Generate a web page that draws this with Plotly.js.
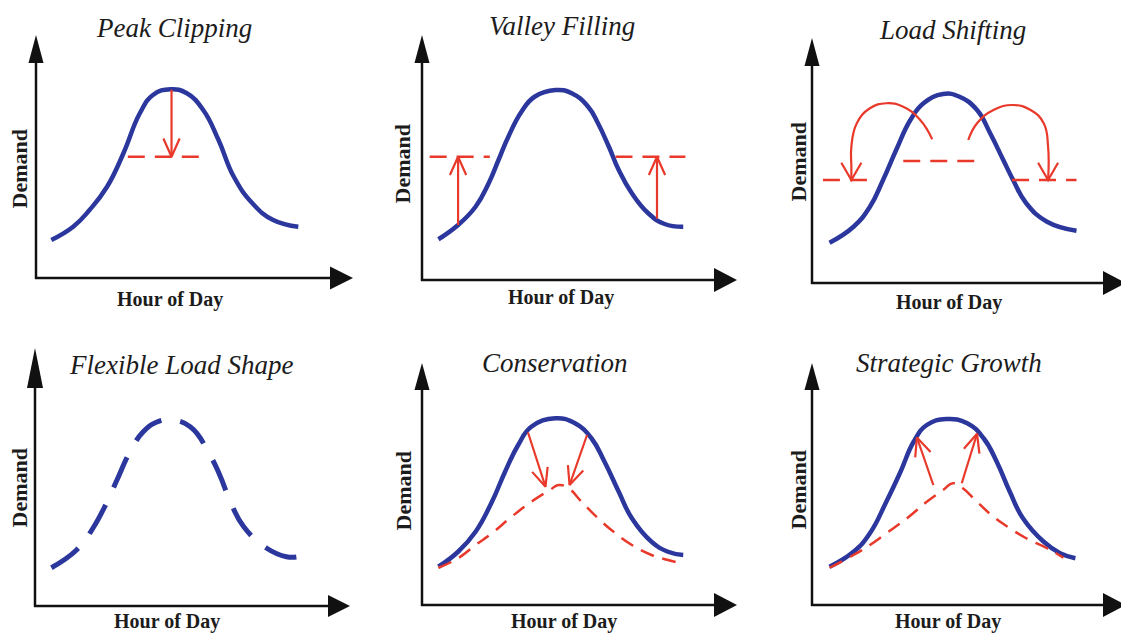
<!DOCTYPE html>
<html><head><meta charset="utf-8">
<script src="https://cdn.plot.ly/plotly-3.0.1.min.js"></script>
<style>html,body{margin:0;padding:0;background:#fff;} #chart{width:1121px;height:633px;}</style>
</head><body><div id="chart"></div>
<script>
// ---------- text ----------
const panelTitles = ["Peak Clipping", "Valley Filling", "Load Shifting", "Flexible Load Shape", "Conservation", "Strategic Growth"];
const xAxisLabel = "Hour of Day";
const yAxisLabel = "Demand";

// ---------- data (hour of day, demand %) ----------
// Panel 1: Peak Clipping
const p1Hour   = [1.4, 3.4, 4.9, 6.5, 8.0, 9.5, 10.7, 12.3, 13.8, 15.3, 16.7, 18.1, 19.8, 21.7, 24.0];
const p1Demand = [15.2, 20.5, 27.2, 36.5, 49.9, 65.9, 73.2, 75.5, 73.9, 67.2, 55.2, 40.5, 29.9, 23.2, 20.5];
const p1ClipHour   = [8.4, 15.2];
const p1ClipDemand = [48.5, 48.5];
const p1ArrowHour   = [12.4, 12.4];
const p1ArrowDemand = [75.3, 48.5];

// Panel 2: Valley Filling
const p2Hour   = [1.5, 3.3, 4.9, 6.1, 7.0, 7.9, 9.1, 10.3, 12.2, 13.7, 15.2, 16.1, 17.1, 18.0, 19.2, 20.7, 22.2, 23.9];
const p2Demand = [16.3, 22.0, 29.3, 38.7, 48.0, 57.3, 67.3, 73.3, 76.0, 74.7, 69.3, 62.7, 53.3, 44.0, 34.7, 26.7, 22.4, 21.3];
const p2FillLeftHour  = [0.7, 6.2];
const p2FillRightHour = [17.7, 24.1];
const p2FillDemand    = [49.3, 49.3];
const p2ArrowLeftHour    = [3.3, 3.3];
const p2ArrowLeftDemand  = [22.0, 49.3];
const p2ArrowRightHour   = [21.5, 21.5];
const p2ArrowRightDemand = [24.5, 49.3];

// Panel 3: Load Shifting
const p3Hour   = [1.6, 3.8, 5.3, 6.5, 7.7, 9.0, 10.2, 12.0, 13.5, 15.1, 16.3, 17.5, 18.4, 19.6, 21.5, 24.2];
const p3Demand = [16.1, 22.5, 30.5, 41.2, 53.2, 65.2, 71.9, 75.6, 74.5, 69.2, 59.9, 49.2, 41.2, 31.9, 24.5, 20.9];
const p3LowLeftHour  = [1.0, 5.9];
const p3LowRightHour = [18.3, 24.2];
const p3LowDemand    = [41.2, 41.2];
const p3MidHour      = [8.35, 15.2];
const p3MidDemand    = [48.8, 48.8];
const p3ArcLeftHour    = [11.0, 9.9, 8.35, 6.8, 5.3, 4.1, 3.6, 3.6, 3.6];
const p3ArcLeftDemand  = [57.5, 65.2, 70.5, 71.9, 69.9, 63.9, 54.5, 46.5, 41.2];
const p3ArcRightHour   = [14.3, 15.1, 16.6, 18.4, 20.0, 21.2, 21.6, 21.6];
const p3ArcRightDemand = [57.2, 63.9, 69.2, 71.2, 69.2, 63.9, 54.5, 41.2];

// Panel 4: Flexible Load Shape
const p4Hour   = [1.5, 3.8, 5.2, 6.6, 7.5, 8.7, 9.9, 11.1, 12.4, 14.2, 16.0, 16.9, 18.0, 19.1, 21.2, 23.0, 24.1];
const p4Demand = [15.3, 22.4, 30.4, 41.7, 50.4, 61.7, 69.7, 73.5, 74.4, 71.7, 60.4, 52.4, 40.4, 31.7, 23.1, 19.7, 19.7];

// Panel 5: Conservation
const p5Hour   = [1.5, 3.3, 4.9, 6.4, 7.6, 8.8, 10.0, 12.2, 14.0, 15.5, 16.7, 18.0, 19.2, 21.0, 22.5, 23.9];
const p5Demand = [15.3, 21.3, 29.3, 41.3, 53.3, 64.0, 71.3, 74.7, 72.7, 66.7, 57.3, 45.3, 34.7, 25.3, 21.3, 20.0];
const p5ReducedHour   = [1.5, 3.3, 4.9, 6.4, 8.2, 10.0, 11.7, 12.5, 13.4, 14.6, 16.1, 17.7, 19.2, 21.0, 22.5, 23.6];
const p5ReducedDemand = [14.9, 18.7, 24.0, 28.7, 35.3, 41.3, 46.0, 48.0, 46.7, 41.3, 34.7, 28.7, 24.0, 20.0, 18.0, 16.8];
const p5ArrowLeftHour    = [9.7, 11.3];
const p5ArrowLeftDemand  = [69.0, 47.3];
const p5ArrowRightHour   = [15.1, 13.5];
const p5ArrowRightDemand = [68.0, 48.0];

// Panel 6: Strategic Growth
const p6Hour   = [1.6, 3.8, 5.3, 6.8, 8.1, 9.3, 10.5, 12.3, 14.2, 15.7, 16.9, 18.1, 19.3, 21.2, 22.7, 24.1];
const p6Demand = [15.3, 21.3, 28.7, 41.3, 53.3, 65.3, 72.0, 74.4, 72.7, 66.7, 57.3, 45.3, 34.7, 25.3, 20.7, 18.7];
const p6BaseHour   = [1.6, 3.8, 5.3, 6.8, 8.7, 10.5, 12.0, 12.9, 13.8, 15.1, 16.6, 18.1, 19.6, 21.5, 23.0];
const p6BaseDemand = [14.9, 20.0, 24.0, 28.7, 34.7, 41.3, 46.0, 48.7, 46.7, 41.3, 35.3, 30.7, 26.7, 22.7, 18.9];
const p6ArrowLeftHour    = [11.1, 9.6];
const p6ArrowLeftDemand  = [48.0, 67.0];
const p6ArrowRightHour   = [13.7, 15.1];
const p6ArrowRightDemand = [48.7, 68.5];

// ---------- layout geometry (pixels) ----------
const FW = 1121, FH = 633;
const PXH = 10.93, PYD = 2.5;   // px per hour, px per demand unit
const DW = 290, DH = 230;       // plot-area size for each panel
const geom = [
  {ox:36,  oy:278, yTip:35,  yHead:28, yHalf:7.5, xTip:353,  xHead:23, xHalf:11.5, tX:174, tY:28,  dX:18.5,  dY:169, hX:169.5, hY:299.5},
  {ox:422, oy:280, yTip:35,  yHead:28, yHalf:7.5, xTip:737,  xHead:23, xHalf:12,   tX:562, tY:26,  dX:402.5, dY:164, hX:561,   hY:297},
  {ox:812, oy:283, yTip:38,  yHead:28, yHalf:7.5, xTip:1126, xHead:23, xHalf:12,   tX:952, tY:30,  dX:797.5, dY:162, hX:948.5, hY:302.5},
  {ox:35,  oy:606, yTip:348, yHead:40, yHalf:8,   xTip:350,  xHead:22, xHalf:11,   tX:181, tY:365, dX:18.5,  dY:488, hX:167,   hY:621},
  {ox:422, oy:605, yTip:363, yHead:27, yHalf:7.5, xTip:737,  xHead:23, xHalf:12,   tX:555, tY:363, dX:402.5, dY:491, hX:563.5, hY:621},
  {ox:812, oy:605, yTip:363, yHead:27, yHalf:7.5, xTip:1126, xHead:23, xHalf:12,   tX:949, tY:363, dX:797.5, dY:490, hX:947.5, hY:621}
];

const BLUE = '#2b379c', RED = '#e8392a', INK = '#111111';
const SERIF = 'Liberation Serif, Times New Roman, serif';
const px = v => v / FW;
const py = v => 1 - v / FH;

const traces = [];
function ax(k) { return k === 1 ? '' : String(k); }
function addLine(k, xs, ys, color, width, dash, shape) {
  traces.push({
    type: 'scatter', mode: 'lines', x: xs, y: ys,
    xaxis: 'x' + ax(k), yaxis: 'y' + ax(k),
    line: {color: color, width: width, dash: dash || 'solid', shape: shape || 'linear', smoothing: 1.3},
    hoverinfo: 'skip', showlegend: false
  });
}
// open V arrowhead at (x1,y1) pointing along direction from (x0,y0)
function addHead(k, x0, y0, x1, y1, L, angDeg) {
  L = L || 19; const a = (angDeg || 25) * Math.PI / 180;
  const dx = (x1 - x0) * PXH, dy = (y1 - y0) * PYD;
  const n = Math.hypot(dx, dy), ux = -dx / n, uy = -dy / n;
  const pts = [a, -a].map(t => {
    const rx = ux * Math.cos(t) - uy * Math.sin(t);
    const ry = ux * Math.sin(t) + uy * Math.cos(t);
    return [x1 + L * rx / PXH, y1 + L * ry / PYD];
  });
  addLine(k, [pts[0][0], x1, pts[1][0]], [pts[0][1], y1, pts[1][1]], RED, 2.2);
}
function addArrow(k, xs, ys) {
  addLine(k, xs, ys, RED, 2.2);
  addHead(k, xs[0], ys[0], xs[1], ys[1], 20, 24);
}

const DASH = '17px,10px';
// Panel 1
addLine(1, p1Hour, p1Demand, BLUE, 4.5, 'solid', 'spline');
addLine(1, p1ClipHour, p1ClipDemand, RED, 2.5, DASH);
addArrow(1, p1ArrowHour, p1ArrowDemand);
// Panel 2
addLine(2, p2Hour, p2Demand, BLUE, 4.5, 'solid', 'spline');
addLine(2, p2FillLeftHour, p2FillDemand, RED, 2.5, DASH);
addLine(2, p2FillRightHour, p2FillDemand, RED, 2.5, DASH);
addArrow(2, p2ArrowLeftHour, p2ArrowLeftDemand);
addArrow(2, p2ArrowRightHour, p2ArrowRightDemand);
// Panel 3
addLine(3, p3Hour, p3Demand, BLUE, 4.5, 'solid', 'spline');
addLine(3, p3LowLeftHour, p3LowDemand, RED, 2.5, DASH);
addLine(3, p3LowRightHour, p3LowDemand, RED, 2.5, DASH);
addLine(3, p3MidHour, p3MidDemand, RED, 2.5, DASH);
addLine(3, p3ArcLeftHour, p3ArcLeftDemand, RED, 2.2, 'solid', 'spline');
addLine(3, p3ArcRightHour, p3ArcRightDemand, RED, 2.2, 'solid', 'spline');
{
  const nL = p3ArcLeftHour.length, nR = p3ArcRightHour.length;
  addHead(3, p3ArcLeftHour[nL - 2], p3ArcLeftDemand[nL - 2], p3ArcLeftHour[nL - 1], p3ArcLeftDemand[nL - 1], 20, 30);
  addHead(3, p3ArcRightHour[nR - 2], p3ArcRightDemand[nR - 2], p3ArcRightHour[nR - 1], p3ArcRightDemand[nR - 1], 20, 30);
}
// Panel 4
addLine(4, p4Hour, p4Demand, BLUE, 5, '33px,19px', 'spline');
// Panel 5
addLine(5, p5Hour, p5Demand, BLUE, 4.5, 'solid', 'spline');
addLine(5, p5ReducedHour, p5ReducedDemand, RED, 2.5, '14px,9px', 'spline');
addArrow(5, p5ArrowLeftHour, p5ArrowLeftDemand);
addArrow(5, p5ArrowRightHour, p5ArrowRightDemand);
// Panel 6
addLine(6, p6Hour, p6Demand, BLUE, 4.5, 'solid', 'spline');
addLine(6, p6BaseHour, p6BaseDemand, RED, 2.5, '14px,9px', 'spline');
addArrow(6, p6ArrowLeftHour, p6ArrowLeftDemand);
addArrow(6, p6ArrowRightHour, p6ArrowRightDemand);

// ---------- layout ----------
const layout = {
  width: FW, height: FH,
  margin: {l: 0, r: 0, t: 0, b: 0},
  paper_bgcolor: '#ffffff', plot_bgcolor: 'rgba(0,0,0,0)',
  showlegend: false, shapes: [], annotations: []
};
geom.forEach((g, i) => {
  const k = i + 1;
  layout['xaxis' + ax(k)] = {domain: [px(g.ox), px(g.ox + DW)], range: [0, DW / PXH], visible: false, fixedrange: true};
  layout['yaxis' + ax(k)] = {domain: [py(g.oy), py(g.oy - DH)], range: [0, DH / PYD], visible: false, fixedrange: true};
  // axis lines
  layout.shapes.push({type: 'line', xref: 'paper', yref: 'paper', x0: px(g.ox), y0: py(g.oy + 1), x1: px(g.ox), y1: py(g.yTip + g.yHead - 2), line: {color: INK, width: 2.5}, layer: 'above'});
  layout.shapes.push({type: 'line', xref: 'paper', yref: 'paper', x0: px(g.ox - 1), y0: py(g.oy), x1: px(g.xTip - g.xHead + 2), y1: py(g.oy), line: {color: INK, width: 2.5}, layer: 'above'});
  // arrow heads
  layout.shapes.push({type: 'path', xref: 'paper', yref: 'paper', layer: 'above',
    path: `M ${px(g.ox)} ${py(g.yTip)} L ${px(g.ox - g.yHalf)} ${py(g.yTip + g.yHead)} L ${px(g.ox + g.yHalf)} ${py(g.yTip + g.yHead)} Z`,
    fillcolor: INK, line: {width: 0}});
  layout.shapes.push({type: 'path', xref: 'paper', yref: 'paper', layer: 'above',
    path: `M ${px(g.xTip)} ${py(g.oy)} L ${px(g.xTip - g.xHead)} ${py(g.oy - g.xHalf)} L ${px(g.xTip - g.xHead)} ${py(g.oy + g.xHalf)} Z`,
    fillcolor: INK, line: {width: 0}});
  // texts
  layout.annotations.push({xref: 'paper', yref: 'paper', x: px(g.tX), y: py(g.tY), xanchor: 'center', yanchor: 'middle',
    text: '<i>' + panelTitles[i] + '</i>', showarrow: false, font: {family: SERIF, size: 27, color: '#1c1c1c'}});
  layout.annotations.push({xref: 'paper', yref: 'paper', x: px(g.dX), y: py(g.dY), xanchor: 'center', yanchor: 'middle',
    text: '<b>' + yAxisLabel + '</b>', textangle: -90, showarrow: false, font: {family: SERIF, size: 22, color: '#1c1c1c'}});
  layout.annotations.push({xref: 'paper', yref: 'paper', x: px(g.hX), y: py(g.hY), xanchor: 'center', yanchor: 'middle',
    text: '<b>' + xAxisLabel + '</b>', showarrow: false, font: {family: SERIF, size: 20, color: '#1c1c1c'}});
});

Plotly.newPlot('chart', traces, layout, {displayModeBar: false, staticPlot: true});
</script>
</body></html>
